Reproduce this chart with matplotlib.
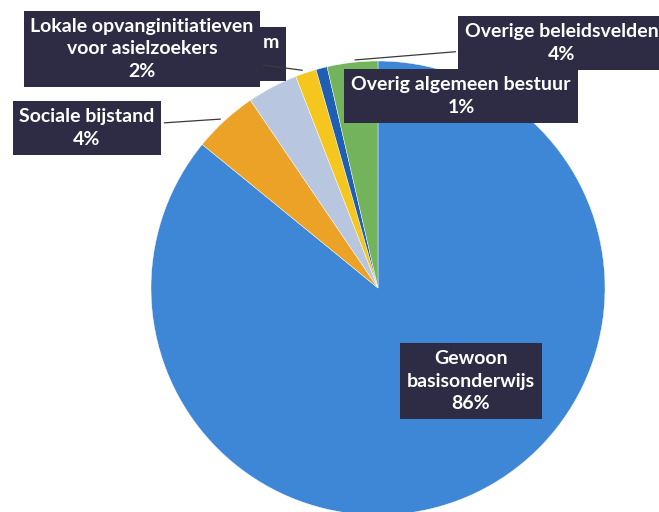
import numpy as np
import matplotlib
matplotlib.use("Agg")
from matplotlib import pyplot as plt

# slices, clockwise from 12 o'clock
labels = ["Gewoon\nbasisonderwijs", "Sociale bijstand", "", "Lokale opvanginitiatieven\nvoor asielzoekers",
          "Overig algemeen bestuur", "Overige beleidsvelden"]
values = [85.9, 4.6, 3.6, 1.5, 0.8, 3.6]
shown_pct = [86, 4, 3, 2, 1, 4]
colors = ["#3d87d6", "#eba227", "#b9c6df", "#f4c61e", "#1e5fb4", "#72b35c"]

# label box centres in figure pixels (x, y from bottom), per slice
box_pos = [(471, 131), (87, 384), (279, 458), (142, 463), (461, 416), (562, 469)]
leader = [False, True, False, True, False, True]

box_color = "#2d2c44"
font = ["Lato", "DejaVu Sans"]

fig = plt.figure(figsize=[6.59, 5.12], dpi=100)
ax = fig.add_axes([151 / 659, -3 / 512, 454 / 659, 454 / 512])

wedges, _ = ax.pie(values, colors=colors, startangle=90, counterclock=False,
                   wedgeprops=dict(edgecolor="white", linewidth=0.3))
ax.set_xlim(-1, 1)
ax.set_ylim(-1, 1)
ax.set_aspect("equal")

for i, w in enumerate(wedges):
    mid = np.deg2rad((w.theta1 + w.theta2) / 2)
    r = 0.55 if i == 0 else 1.01
    xy = (r * np.cos(mid), r * np.sin(mid))
    if labels[i]:
        txt = "%s\n%d%%" % (labels[i], shown_pct[i])
        z = 6
        ha = "center"
    else:
        txt = "m\n "
        z = 4
        ha = "right"
    props = dict(arrowstyle="-", color="#3a3a3a", lw=0.9) if leader[i] else None
    ax.annotate(txt, xy=xy, xycoords="data", xytext=box_pos[i], textcoords="figure pixels",
                ha=ha, va="center",
                fontsize=14, fontweight="bold", color="white", family=font,
                linespacing=1.4, zorder=z, annotation_clip=False,
                bbox=dict(boxstyle="square,pad=0.35", fc=box_color, ec="none"),
                arrowprops=props)

plt.savefig("out.png", dpi=100)
